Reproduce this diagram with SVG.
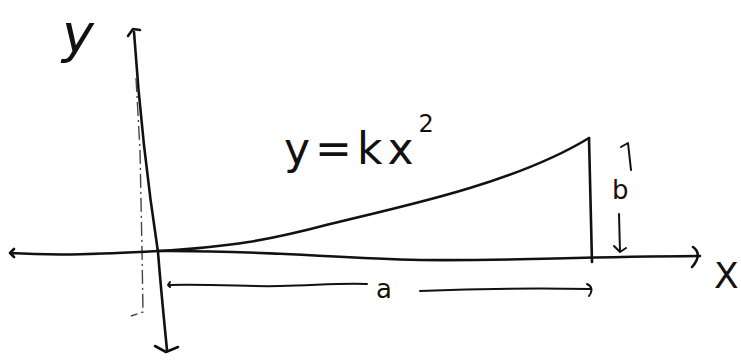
<svg xmlns="http://www.w3.org/2000/svg" width="741" height="361" viewBox="0 0 741 361">
<style>
.ln{fill:none;stroke:#111;stroke-width:2.6;stroke-linecap:round;stroke-linejoin:round}
.thin{fill:none;stroke:#111;stroke-width:2;stroke-linecap:round;stroke-linejoin:round}
.dash{fill:none;stroke:#444;stroke-width:1.4;stroke-dasharray:14 4 2 4}
.t{font-family:"DejaVu Sans","Liberation Sans",sans-serif;fill:#111}
</style>
<rect width="741" height="361" fill="#fff"/>
<g id="connectors">
<path class="ln" d="M134 32 C140 120 150 200 158 252 C161 290 164 320 167 350"/>
<path class="ln" d="M128 36 L133 29 L140 30"/>
<path class="ln" d="M155 346 L166 352 L178 347"/>
<path class="dash" d="M136 78 L140 150 L142 250 L143 312 L131 316"/>
<path class="ln" d="M14 249 L10 253 L14 257 M10 253 C60 256 100 254 158 251 C260 250 330 258 420 260 C520 261 560 257 700 256"/>
<path class="ln" d="M693 247 C699 251 700 258 692 267"/>
<path class="ln" d="M158 251 C230 247 270 240 330 224 C420 203 520 180 589 138"/>
<path class="ln" d="M589 138 L592 262"/>
<path class="thin" d="M170 282 L168 285 L170 287 M168 285 C220 284 250 287 280 286 C320 285 340 283 367 284"/>
<path class="thin" d="M420 291 C470 289 540 288 590 289 M587 284 C592 286 593 291 589 296"/>
<path class="thin" d="M621 147 L628 143 L631 170"/>
<path class="thin" d="M619 214 L620 252 L614 246 M620 252 L626 248"/>
</g>
<g id="label-y"><text class="t" x="62" y="52" font-size="54" font-style="italic">y</text></g>
<g id="label-eq"><text class="t" x="284" y="164" font-size="44" letter-spacing="5">y=kx<tspan dy="-32" font-size="24">2</tspan></text></g>
<g id="label-b"><text class="t" x="612" y="199" font-size="26">b</text></g>
<g id="label-a"><text class="t" x="376" y="298" font-size="26">a</text></g>
<g id="label-x"><text class="t" x="714" y="288" font-size="36">X</text></g>
</svg>
